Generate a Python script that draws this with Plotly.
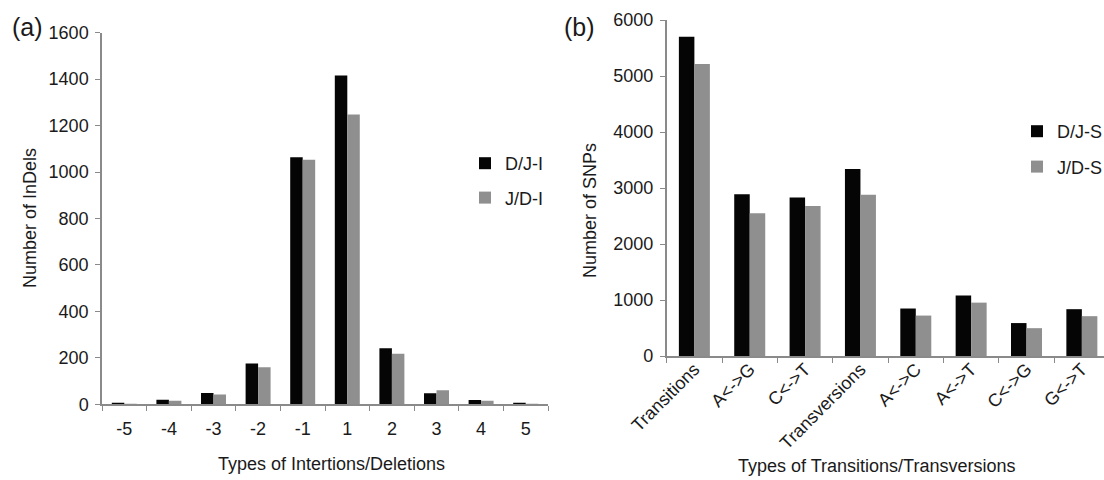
import plotly.graph_objects as go

# ---- data ----
indel_types = ["-5", "-4", "-3", "-2", "-1", "1", "2", "3", "4", "5"]
indel_dj = [5, 20, 49, 176, 1064, 1416, 241, 48, 18, 7]
indel_jd = [2, 15, 42, 160, 1053, 1248, 218, 61, 15, 1]

snp_types = ["Transitions", "A<->G", "C<->T", "Transversions",
             "A<->C", "A<->T", "C<->G", "G<->T"]
snp_dj = [5700, 2890, 2830, 3340, 848, 1080, 588, 836]
snp_jd = [5215, 2550, 2680, 2880, 722, 953, 497, 711]

W, H = 1104, 480
FONT = "Liberation Sans, Arial, sans-serif"
TXT = "#1a1a1a"
AX = "#8a8a8a"
BLACK = "#050505"
GRAY = "#8f8f8f"

fig = go.Figure()
fig.add_trace(go.Bar(x=indel_types, y=indel_dj, name="D/J-I", marker=dict(color=BLACK, line=dict(width=0)),
                     xaxis="x", yaxis="y", legend="legend", legendgroup="a1"))
fig.add_trace(go.Bar(x=indel_types, y=indel_jd, name="J/D-I", marker=dict(color=GRAY, line=dict(width=0)),
                     xaxis="x", yaxis="y", legend="legend", legendgroup="a2"))
fig.add_trace(go.Bar(x=snp_types, y=snp_dj, name="D/J-S", marker=dict(color=BLACK, line=dict(width=0)),
                     xaxis="x2", yaxis="y2", legend="legend2", legendgroup="b1"))
fig.add_trace(go.Bar(x=snp_types, y=snp_jd, name="J/D-S", marker=dict(color=GRAY, line=dict(width=0)),
                     xaxis="x2", yaxis="y2", legend="legend2", legendgroup="b2"))

def px(v):
    return v / W

def py(v):
    return 1 - v / H

FS = 18
tickfont = dict(family=FONT, size=FS, color=TXT)
common_x = dict(type="category", showline=True, linecolor=AX, linewidth=1.5,
                ticks="outside", ticklen=5, tickcolor=AX, tickson="boundaries",
                showgrid=False, zeroline=False, tickfont=tickfont, automargin=False)
common_y = dict(showline=True, linecolor=AX, linewidth=1.5, ticks="outside",
                ticklen=5, tickcolor=AX, showgrid=False, zeroline=False, tickfont=tickfont,
                automargin=False, ticklabelstandoff=3)

fig.update_layout(
    width=W, height=H,
    margin=dict(l=0, r=0, t=0, b=0, autoexpand=False),
    paper_bgcolor="white", plot_bgcolor="white",
    barmode="group", bargap=0.44, bargroupgap=0,
    font=dict(family=FONT, color=TXT),
    xaxis=dict(common_x, domain=[px(102), px(548)], range=[-0.5, 9.5], anchor="y",
               categoryorder="array", categoryarray=indel_types, ticklabelstandoff=7),
    yaxis=dict(common_y, domain=[py(404.3), py(32.7)], range=[0, 1600], dtick=200, anchor="x"),
    xaxis2=dict(common_x, domain=[px(666.7), 1.0], range=[-0.5, 7.4], anchor="y2",
                tickangle=-45, categoryorder="array", categoryarray=snp_types,
                ticklabelstandoff=-6),
    yaxis2=dict(common_y, domain=[py(356), py(20)], range=[0, 6000], dtick=1000, anchor="x2"),
    legend=dict(x=px(465), y=py(145), xanchor="left", yanchor="top",
                font=dict(family=FONT, size=FS, color=TXT), bgcolor="rgba(0,0,0,0)",
                tracegroupgap=8, itemsizing="constant"),
    legend2=dict(x=px(1017), y=py(113), xanchor="left", yanchor="top",
                 font=dict(family=FONT, size=FS, color=TXT), bgcolor="rgba(0,0,0,0)",
                 tracegroupgap=9, itemsizing="constant"),
    showlegend=True,
)

ann = [
    dict(text="(a)", x=px(27), y=py(27), font=dict(size=25)),
    dict(text="(b)", x=px(579), y=py(27), font=dict(size=25)),
    dict(text="Types of Intertions/Deletions", x=px(331), y=py(464), font=dict(size=FS)),
    dict(text="Types of Transitions/Transversions", x=px(876), y=py(466), font=dict(size=FS)),
    dict(text="Number of InDels", x=px(30), y=py(218), textangle=-90, font=dict(size=FS)),
    dict(text="Number of SNPs", x=px(590), y=py(211), textangle=-90, font=dict(size=FS)),
]
for a in ann:
    a.update(xref="paper", yref="paper", showarrow=False, xanchor="center", yanchor="middle")
    a["font"].update(family=FONT, color=TXT)
fig.update_layout(annotations=ann)

fig.write_html("out.html",
               config={"displayModeBar": False},
               post_script="document.body.style.margin='0';document.body.style.padding='0';"
                           "document.body.style.overflow='hidden';")
